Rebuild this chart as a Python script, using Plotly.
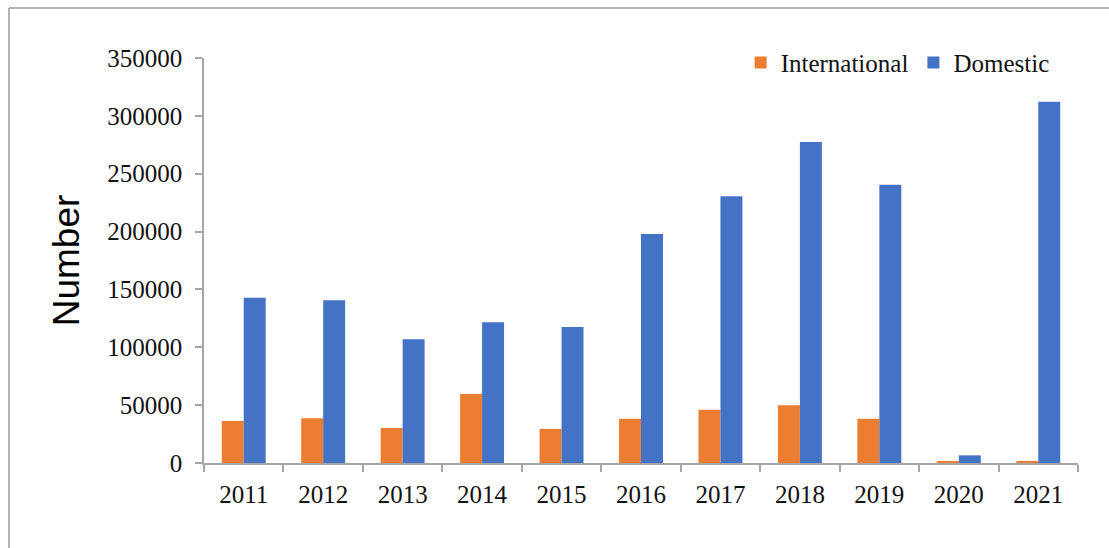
import plotly.graph_objects as go

years = ["2011", "2012", "2013", "2014", "2015", "2016", "2017", "2018", "2019", "2020", "2021"]
international = [36300, 38600, 30200, 59600, 29400, 38300, 46100, 49900, 38300, 1500, 1500]
domestic = [142900, 140600, 106900, 121600, 117500, 197900, 230500, 277400, 240500, 6600, 312200]
y_ticks = [0, 50000, 100000, 150000, 200000, 250000, 300000, 350000]

ORANGE = "#ED7D31"
BLUE = "#4472C4"
AXIS_GREY = "#A6A6A6"
SERIF = "Liberation Serif, Times New Roman, serif"
TEXT = "#111111"

fig = go.Figure()
fig.add_trace(go.Bar(name="International", x=years, y=international, marker_color=ORANGE,
                     marker_line_width=0))
fig.add_trace(go.Bar(name="Domestic", x=years, y=domestic, marker_color=BLUE,
                     marker_line_width=0))

fig.update_layout(
    width=1109, height=548,
    margin=dict(l=204, r=31, t=58, b=85, autoexpand=False),
    paper_bgcolor="white", plot_bgcolor="white",
    barmode="group", bargap=0.447, bargroupgap=0,
    font=dict(family=SERIF, size=25, color=TEXT),
    legend=dict(orientation="h", x=0.614, y=1.045, xanchor="left", yanchor="top",
                font=dict(family=SERIF, size=25, color=TEXT),
                bgcolor="rgba(0,0,0,0)", itemsizing="constant", tracegroupgap=0),
    showlegend=True,
)

fig.update_xaxes(
    type="category", showgrid=False, showline=True, linecolor=AXIS_GREY, linewidth=1.5,
    ticks="outside", tickson="boundaries", ticklen=7, tickcolor=AXIS_GREY, tickwidth=1.5,
    ticklabelstandoff=8, automargin=False,
)
fig.update_yaxes(
    range=[0, 350000], tickvals=y_ticks, ticktext=[str(v) for v in y_ticks],
    showgrid=False, zeroline=False, showline=True, linecolor=AXIS_GREY, linewidth=1.5,
    ticks="outside", ticklen=7, tickcolor=AXIS_GREY, tickwidth=1.5,
    ticklabelstandoff=8, automargin=False,
    title=dict(text="Number", font=dict(family="Liberation Sans, Arial, sans-serif", size=37,
                                        color="#000000"), standoff=16),
)

# thin frame around the chart area (open at the bottom and right edges)
fig.add_shape(type="line", xref="paper", yref="paper",
              x0=-0.2231, x1=1.04, y0=1.1235, y1=1.1235,
              line=dict(color="#9a9a9a", width=1.5))
fig.add_shape(type="line", xref="paper", yref="paper",
              x0=-0.2231, x1=-0.2231, y0=1.1235, y1=-0.22,
              line=dict(color="#9a9a9a", width=1.5))

fig.write_html("out.html")
